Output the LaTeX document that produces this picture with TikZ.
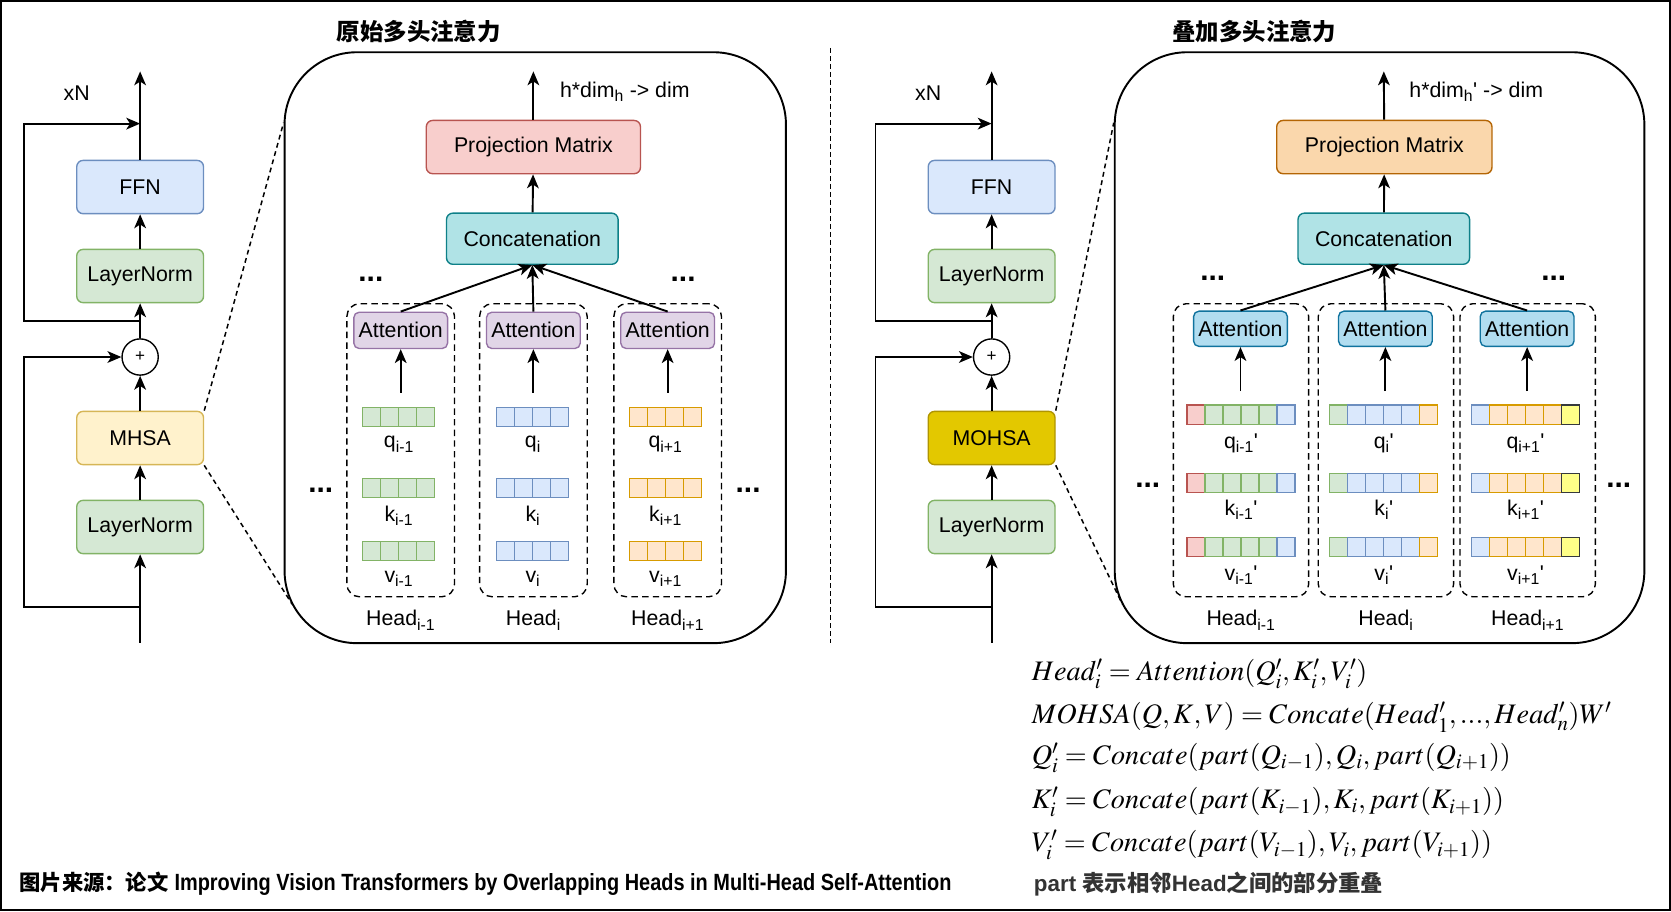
\documentclass[tikz,border=0pt]{standalone}
\usepackage{mathptmx}
\usepackage[no-math]{fontspec}
\setmainfont{Liberation Sans}
\setsansfont{Liberation Sans}
\newfontfamily\cjk{Noto Sans CJK SC}
\newfontfamily\narrowfont{Liberation Sans}[FakeStretch=0.85]
\usetikzlibrary{positioning,calc,arrows.meta}
\definecolor{ffnF}{HTML}{DAE8FC}\definecolor{ffnD}{HTML}{6C8EBF}
\definecolor{lnF}{HTML}{D5E8D4}\definecolor{lnD}{HTML}{82B366}
\definecolor{mhF}{HTML}{FFF2CC}\definecolor{mhD}{HTML}{D6B656}
\definecolor{moF}{HTML}{E3C800}\definecolor{moD}{HTML}{B09500}
\definecolor{prjF}{HTML}{F8CECC}\definecolor{prjD}{HTML}{B85450}
\definecolor{prpF}{HTML}{FAD7AC}\definecolor{prpD}{HTML}{B46504}
\definecolor{catF}{HTML}{B0E3E6}\definecolor{catD}{HTML}{0E8088}
\definecolor{attF}{HTML}{E1D5E7}\definecolor{attD}{HTML}{9673A6}
\definecolor{atbF}{HTML}{B1DDF0}\definecolor{atbD}{HTML}{10739E}
\definecolor{grnF}{HTML}{D5E8D4}\definecolor{grnD}{HTML}{82B366}
\definecolor{bluF}{HTML}{DAE8FC}\definecolor{bluD}{HTML}{6C8EBF}
\definecolor{orgF}{HTML}{FFE6CC}\definecolor{orgD}{HTML}{D79B00}
\definecolor{redF}{HTML}{F8CECC}\definecolor{redD}{HTML}{B85450}
\definecolor{yelF}{HTML}{FFFF88}\definecolor{yelD}{HTML}{36393D}
\definecolor{partC}{HTML}{333333}

\begin{document}
\begin{tikzpicture}[x=1pt,y=-1pt,
  font=\fontsize{20}{24}\selectfont,
  blk/.style={draw,rounded corners=6pt,line width=1.3pt,
              minimum width=119pt,minimum height=50pt,inner sep=0pt},
  att/.style={draw,rounded corners=5pt,line width=1.3pt,
              minimum width=88pt,minimum height=34pt,inner sep=0pt},
  cell/.style={draw,line width=1.1pt,minimum width=16.9pt,minimum height=18pt,
               inner sep=0pt,outer sep=0pt},
  arr/.style={-{Stealth[length=13pt,width=11pt,inset=3.5pt]},line width=1.8pt},
  headbox/.style={draw,line width=1.3pt,dash pattern=on 6pt off 4pt,
                  rounded corners=12pt,minimum height=275pt},
  bigbox/.style={draw,line width=1.8pt,rounded corners=68pt,minimum height=554.5pt},
  zoomln/.style={line width=1.4pt,dash pattern=on 4.5pt off 3.5pt},
  divln/.style={line width=1.4pt,dash pattern=on 4.5pt off 3pt},
  dotsym/.style={font=\fontsize{28}{28}\selectfont\bfseries,inner sep=0pt},
  ttl/.style={font=\fontsize{22}{26}\selectfont\cjk\bfseries},
  eqn/.style={anchor=west,inner sep=0pt,font=\fontsize{26.5}{30}\selectfont}
]
\useasboundingbox (0,0) rectangle (1568,855);
\draw[line width=1.6pt] (1,1) rectangle (1567,854);

% ---- columns ----
\def\xA{131.5}   % left encoder
\def\xB{930.5}   % right encoder

% ========================================================
%  left encoder block
% ========================================================
\node[blk,fill=ffnF,draw=ffnD] (ffnA) at (\xA,175.5) {FFN};
\node[blk,fill=lnF,draw=lnD] (lnA) at (\xA,259) {LayerNorm};
\node[draw,circle,line width=1.3pt,minimum size=34pt,inner sep=0pt,
      font=\fontsize{16}{16}\selectfont] (addA) at (\xA,335) {+};
\node[blk,fill=mhF,draw=mhD] (mhsa) at (\xA,411) {MHSA};
\node[blk,fill=lnF,draw=lnD] (lnA0) at (\xA,494.5) {LayerNorm};
\node (xnA) at (72,87) {xN};
\coordinate (inA) at (\xA,603);
\coordinate (outA) at (\xA,67);
\coordinate (brA1) at (\xA,301);
\coordinate (brA0) at (\xA,570);
\coordinate (jnA) at (\xA,116);

\draw[arr] (inA) -- (lnA0);
\draw[arr] (lnA0) -- (mhsa);
\draw[arr] (mhsa) -- (addA);
\draw[arr] (addA) -- (lnA);
\draw[arr] (lnA) -- (ffnA);
\draw[arr] (ffnA) -- (outA);
\draw[arr] (brA1) -- ++(-109,0) |- (jnA);
\draw[arr] (brA0) -- ++(-109,0) |- (addA.west);

% ========================================================
%  right encoder block
% ========================================================
\node[blk,fill=ffnF,draw=ffnD] (ffnB) at (\xB,175.5) {FFN};
\node[blk,fill=lnF,draw=lnD] (lnB) at (\xB,259) {LayerNorm};
\node[draw,circle,line width=1.3pt,minimum size=34pt,inner sep=0pt,
      font=\fontsize{16}{16}\selectfont] (addB) at (\xB,335) {+};
\node[blk,fill=moF,draw=moD] (mohsa) at (\xB,411) {MOHSA};
\node[blk,fill=lnF,draw=lnD] (lnB0) at (\xB,494.5) {LayerNorm};
\node (xnB) at (871,87) {xN};
\coordinate (inB) at (\xB,603);
\coordinate (outB) at (\xB,67);
\coordinate (brB1) at (\xB,301);
\coordinate (brB0) at (\xB,570);
\coordinate (jnB) at (\xB,116);

\draw[arr] (inB) -- (lnB0);
\draw[arr] (lnB0) -- (mohsa);
\draw[arr] (mohsa) -- (addB);
\draw[arr] (addB) -- (lnB);
\draw[arr] (lnB) -- (ffnB);
\draw[arr] (ffnB) -- (outB);
\draw[arr] (brB1) -- ++(-109,0) |- (jnB);
\draw[arr] (brB0) -- ++(-109,0) |- (addB.west);

% ---- divider ----
\coordinate (divT) at (779.5,45);
\coordinate (divB) at (779.5,603);
\draw[divln] (divT) -- (divB);

% ========================================================
%  original multi-head attention (zoom-in)
% ========================================================
\node[bigbox,minimum width=470.5pt] (boxA) at (502.25,326.25) {};
\node[ttl] (ttlA) at (393,30) {原始多头注意力};
\draw[zoomln] (mhsa.north east) -- ($(boxA.north west)+(0,67)$);
\draw[zoomln] (mhsa.south east) -- ($(boxA.south west)+(8,-37.5)$);

\node[blk,fill=prjF,draw=prjD,minimum width=201pt] (prjA) at (500.5,138) {Projection Matrix};
\node[blk,fill=catF,draw=catD,minimum width=161pt,minimum height=48pt] (catA) at (499.5,224) {Concatenation};
\coordinate (topA) at (500.5,67);
\draw[arr] (catA) -- (prjA);
\draw[arr] (prjA) -- (topA);
\node[anchor=west] (dimA) at (522,86) {h*dim\textsubscript{h} -> dim};

\foreach \hx/\hn/\lab in {376/a/{i-1},500.5/b/i,626.5/c/{i+1}}{
  \node[headbox,minimum width=101pt] (hd\hn A) at (\hx,422.5) {};
  \node[att,fill=attF,draw=attD] (at\hn A) at (\hx,310) {Attention};
  \coordinate (ft\hn A) at (\hx,368.5);
  \draw[arr] (ft\hn A) -- (at\hn A);
  \draw[arr] (at\hn A.north) -- (catA.south);
  \node (hl\hn A) at (\hx,582) {Head\textsubscript{\lab}};
}
\foreach \hx/\hn/\col/\lab in {374.3/a/grn/{i-1},500/b/blu/i,624.5/c/org/{i+1}}{
  \foreach \ry/\ly/\rn in {391/417/q,458/484/k,517/543/v}{
    \foreach \n in {0,...,3}
      \node[cell,fill=\col F,draw=\col D] (\rn\hn\n A) at (\hx-25.35+\n*16.9,\ry) {};
    \node (\rn\hn A) at (\hx,\ly) {\rn\textsubscript{\lab}};
  }
}
\node[dotsym] (dtA1) at (348,262) {...};
\node[dotsym] (dtA2) at (641,262) {...};
\node[dotsym] (dtA3) at (301,460) {...};
\node[dotsym] (dtA4) at (702,460) {...};

% ========================================================
%  overlapping multi-head attention (zoom-in)
% ========================================================
\node[bigbox,minimum width=497pt] (boxB) at (1294.5,326.25) {};
\node[ttl] (ttlB) at (1177,30) {叠加多头注意力};
\draw[zoomln] (mohsa.north east) -- ($(boxB.north west)+(0,67)$);
\draw[zoomln] (mohsa.south east) -- ($(boxB.south west)+(8,-37.5)$);

\node[blk,fill=prpF,draw=prpD,minimum width=202pt] (prjB) at (1299,138) {Projection Matrix};
\node[blk,fill=catF,draw=catD,minimum width=161pt,minimum height=48pt] (catB) at (1298.5,224) {Concatenation};
\coordinate (topB) at (1298.5,67);
\draw[arr] (catB) -- (prjB);
\draw[arr] (prjB) -- (topB);
\node[anchor=west] (dimB) at (1319,86) {h*dim\textsubscript{h}\textquotesingle{} -> dim};

\foreach \hx/\hn/\lab in {1164.5/a/{i-1},1300.5/b/i,1433.5/c/{i+1}}{
  \node[headbox,minimum width=127pt] (hd\hn B) at (\hx,422.5) {};
  \node[att,fill=atbF,draw=atbD,minimum height=33pt] (at\hn B) at (\hx-0.5,308.5) {Attention};
  \coordinate (ft\hn B) at (\hx-0.5,367);
  \draw[arr] (ft\hn B) -- (at\hn B);
  \draw[arr] (at\hn B.north) -- (catB.south);
  \node (hl\hn B) at (\hx,582) {Head\textsubscript{\lab}};
}
\foreach \hx/\hn/\lab/\cols in {1164.5/a/{i-1}/{red,grn,grn,grn,grn,blu},
                                1298.5/b/i/{grn,blu,blu,blu,blu,org},
                                1431.5/c/{i+1}/{blu,org,org,org,org,yel}}{
  \foreach \ry/\ly/\rn in {389/416/q,453/478/k,513/540/v}{
    \foreach \col [count=\n from 0] in \cols
      \node[cell,fill=\col F,draw=\col D] (\rn\hn\n B) at (\hx-42.25+\n*16.9,\ry) {};
    \node (\rn\hn B) at (\hx,\ly) {\rn\textsubscript{\lab}\textquotesingle};
  }
}
\node[dotsym] (dtB1) at (1138,261) {...};
\node[dotsym] (dtB2) at (1458,261) {...};
\node[dotsym] (dtB3) at (1077,455) {...};
\node[dotsym] (dtB4) at (1519,455) {...};

% ---- formulas ----
\node[eqn] (eq1) at (968,632) {$Head'_i=Attention(Q'_i,K'_i,V'_i)$};
\node[eqn] (eq2) at (968,673) {$MOHSA(Q,K,V)=Concate(Head'_1,...,Head'_n)W'$};
\node[eqn] (eq3) at (968,711) {$Q'_i=Concate(part(Q_{i-1}),Q_i,part(Q_{i+1}))$};
\node[eqn] (eq4) at (968,752.5) {$K'_i=Concate(part(K_{i-1}),K_i,part(K_{i+1}))$};
\node[eqn] (eq5) at (968,793) {$V'_i=Concate(part(V_{i-1}),V_i,part(V_{i+1}))$};
\node[anchor=west,inner sep=0pt,text=partC,font=\fontsize{21}{24}\selectfont\bfseries]
  (note) at (970,830) {part {\cjk 表示相邻}Head{\cjk 之间的部分重叠}};

% ---- source ----
\node[anchor=west,inner sep=0pt,font=\fontsize{20}{24}\selectfont\bfseries]
  (src) at (18,829) {{\cjk 图片来源：论文} {\narrowfont\fontsize{22}{24}\selectfont Improving Vision Transformers by Overlapping Heads in Multi-Head Self-Attention}};

\end{tikzpicture}
\end{document}
